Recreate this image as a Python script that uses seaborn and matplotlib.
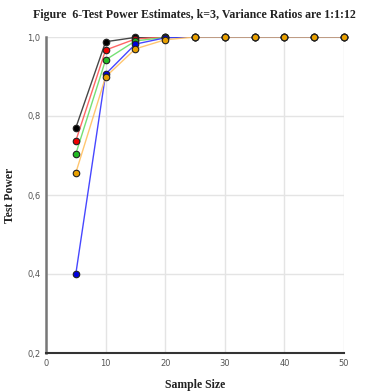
import numpy as np
import matplotlib
matplotlib.use("Agg")
import matplotlib.pyplot as plt
import matplotlib.ticker as mticker
import pandas as pd
import seaborn as sns

sns.set_style("white")

sample_size = [5, 10, 15, 20, 25, 30, 35, 40, 45, 50]
power_black = [0.770, 0.988, 0.999, 1.0, 1.0, 1.0, 1.0, 1.0, 1.0, 1.0]
power_red = [0.737, 0.967, 0.995, 1.0, 1.0, 1.0, 1.0, 1.0, 1.0, 1.0]
power_green = [0.704, 0.942, 0.990, 0.999, 1.0, 1.0, 1.0, 1.0, 1.0, 1.0]
power_blue = [0.400, 0.906, 0.982, 0.998, 1.0, 1.0, 1.0, 1.0, 1.0, 1.0]
power_orange = [0.656, 0.899, 0.970, 0.993, 1.0, 1.0, 1.0, 1.0, 1.0, 1.0]

# drawing order: last one ends up on top
series = [("black", power_black, "#333333", "#000000"),
          ("red", power_red, "#ff5555", "#ee0000"),
          ("green", power_green, "#66dd66", "#22bb22"),
          ("blue", power_blue, "#3333ff", "#0000dd"),
          ("orange", power_orange, "#ffc060", "#e8a000")]

frames = []
for name, vals, _, _ in series:
    frames.append(pd.DataFrame({"n": sample_size, "power": vals, "group": name}))
df = pd.concat(frames)

fig = plt.figure(figsize=(3.74, 3.91), dpi=100)
ax = fig.add_axes([46 / 374, 1 - 353 / 391, 298 / 374, 316 / 391])

for i, (name, vals, lc, mc) in enumerate(series):
    sub = df[df["group"] == name]
    sns.lineplot(data=sub, x="n", y="power", ax=ax, color=lc, linewidth=1.0,
                 alpha=0.9, legend=False, zorder=2 + i * 0.1)
    sc = ax.scatter(sub["n"], sub["power"], s=22, color=mc, edgecolor="#222222",
                    linewidth=0.8, zorder=3 + i * 0.1)
    sc.set_clip_on(False)

ax.set_xlim(0, 50)
ax.set_ylim(0.2, 1.0)
ax.set_xticks([0, 10, 20, 30, 40, 50])
ax.set_yticks([0.2, 0.4, 0.6, 0.8, 1.0])
ax.yaxis.set_major_formatter(mticker.FuncFormatter(lambda v, p: f"{v:.1f}".replace(".", ",")))
ax.grid(True, color="#e4e4e4", linewidth=1.0)
ax.set_axisbelow(True)
for s in ["top", "right"]:
    ax.spines[s].set_visible(False)
ax.spines["left"].set_color("#777777")
ax.spines["left"].set_linewidth(1.8)
ax.spines["bottom"].set_color("#333333")
ax.spines["bottom"].set_linewidth(1.5)
ax.tick_params(axis="both", labelsize=6, colors="#555555", length=3, width=1, pad=1)

bold = dict(family="Liberation Serif", weight="bold", color="#222222")
ax.set_xlabel("Sample Size", fontsize=8.5, labelpad=8, **bold)
ax.set_ylabel("Test Power", fontsize=8.5, labelpad=8, **bold)
fig.text(0.088, 0.978, "Figure  6-Test Power Estimates, k=3, Variance Ratios are 1:1:12",
         ha="left", va="top", fontsize=8.6, **bold)

fig.savefig("out.png", dpi=100)
